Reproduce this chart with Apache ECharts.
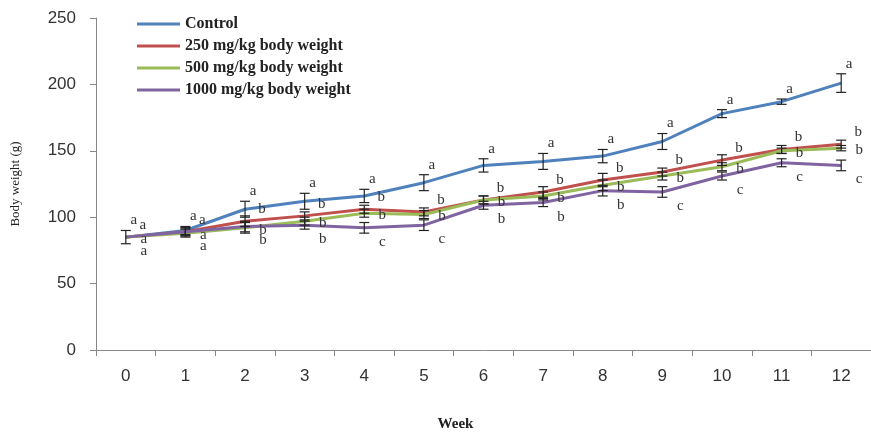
<!DOCTYPE html>
<html>
<head>
<meta charset="utf-8">
<script src="https://cdn.jsdelivr.net/npm/echarts@6/dist/echarts.min.js"></script>
<style>html,body{margin:0;padding:0;background:#fff}#c{width:871px;height:437px}</style>
</head>
<body>
<div id="c"></div>
<script>
var weeks = ['0','1','2','3','4','5','6','7','8','9','10','11','12'];
var seriesNames = ['Control','250 mg/kg body weight','500 mg/kg body weight','1000 mg/kg body weight'];
var control = [85, 90, 106, 112, 116, 126, 139, 142, 146, 157, 178, 187, 201];
var d250    = [85, 89, 97, 101, 106, 104, 113, 119, 128, 134, 143, 151, 155];
var d500    = [85, 88, 92, 97, 103, 102, 113, 116, 124, 131, 138, 150, 152];
var d1000   = [85, 89, 93, 94, 92, 94, 109, 111, 120, 119, 131, 141, 139];
var errControl = [5, 3, 6, 6, 5, 6, 5, 6, 5, 6, 3, 2, 7];
var err250     = [0, 3, 4, 3, 3, 3, 3, 4, 5, 3, 4, 3, 3];
var err500     = [0, 3, 4, 3, 3, 3, 3, 3, 4, 3, 3, 2, 2];
var err1000    = [0, 3, 4, 3, 4, 4, 3, 3, 4, 4, 3, 3, 4];
var letControl = ['a','a','a','a','a','a','a','a','a','a','a','a','a'];
var let250     = ['a','a','b','b','b','b','b','b','b','b','b','b','b'];
var let500     = ['a','a','b','b','b','b','b','b','b','b','b','b','b'];
var let1000    = ['a','a','b','b','c','c','b','b','b','c','c','c','c'];

var colors = ['#4F81BD', '#C0504D', '#9BBB59', '#8064A2'];
var values = [control, d250, d500, d1000];
var errs = [errControl, err250, err500, err1000];
var lets = [letControl, let250, let500, let1000];
// letter offsets per series [dx, dy, relativeToErrorBarTop]
var letOff = [[8, -10, true], [17, -12, false], [18, 2, false], [18, 14, false]];

var chart = echarts.init(document.getElementById('c'));
var series = [];
values.forEach(function (v, i) {
  series.push({
    name: seriesNames[i], type: 'line', data: v, showSymbol: false, symbol: 'none',
    lineStyle: { width: 3, color: colors[i] }, itemStyle: { color: colors[i] }, z: 2 + i
  });
});
values.forEach(function (v, i) {
  var data = v.map(function (val, k) { return [k, val, errs[i][k], lets[i][k]]; });
  series.push({
    type: 'custom', data: data, z: 10, silent: true,
    renderItem: function (params, api) {
      var x = api.value(0), y = api.value(1), e = api.value(2);
      var p = api.coord([x, y]);
      var top = api.coord([x, y + e]);
      var bot = api.coord([x, y - e]);
      var children = [];
      if (e > 0) {
        var st = { stroke: '#222', lineWidth: 1.2 };
        children.push({ type: 'line', shape: { x1: p[0], y1: top[1], x2: p[0], y2: bot[1] }, style: st });
        children.push({ type: 'line', shape: { x1: p[0] - 5, y1: top[1], x2: p[0] + 5, y2: top[1] }, style: st });
        children.push({ type: 'line', shape: { x1: p[0] - 5, y1: bot[1], x2: p[0] + 5, y2: bot[1] }, style: st });
      }
      var o = letOff[i];
      var ly = o[2] ? top[1] + o[1] : p[1] + o[1];
      children.push({ type: 'text', x: p[0] + o[0], y: ly,
        style: { text: data[params.dataIndex][3], fill: '#333', font: '15px "Liberation Serif"', align: 'center', verticalAlign: 'middle' } });
      return { type: 'group', children: children };
    }
  });
});

chart.setOption({
  animation: false,
  backgroundColor: '#fff',
  grid: { left: 96, top: 18, width: 779, height: 340 },
  legend: {
    left: 132, top: 11, orient: 'vertical', itemWidth: 43, itemHeight: 3, itemGap: 6, icon: 'rect',
    data: seriesNames,
    textStyle: { fontFamily: 'Liberation Serif', fontWeight: 'bold', fontSize: 16, color: '#222', lineHeight: 16 }
  },
  xAxis: {
    type: 'category', data: weeks, boundaryGap: true,
    name: 'Week', nameLocation: 'middle', nameGap: 67,
    nameTextStyle: { fontFamily: 'Liberation Serif', fontWeight: 'bold', fontSize: 15, color: '#222', padding: [0, 56, 0, 0] },
    axisLine: { lineStyle: { color: '#888' } },
    axisTick: { show: true, alignWithLabel: false, length: 6, lineStyle: { color: '#888' } },
    axisLabel: { fontFamily: 'Liberation Sans', fontSize: 17, color: '#333', margin: 18 },
    splitLine: { show: false }
  },
  yAxis: {
    type: 'value', min: 0, max: 250, interval: 50,
    name: 'Body weight (g)', nameLocation: 'middle', nameGap: 74, nameRotate: 90,
    nameTextStyle: { fontFamily: 'Liberation Serif', fontSize: 13, color: '#222' },
    axisLine: { show: true, lineStyle: { color: '#888' } },
    axisTick: { show: true, length: 6, lineStyle: { color: '#888' } },
    axisLabel: { fontFamily: 'Liberation Sans', fontSize: 17, color: '#333', margin: 20 },
    splitLine: { show: false }
  },
  series: series
});
</script>
</body>
</html>
